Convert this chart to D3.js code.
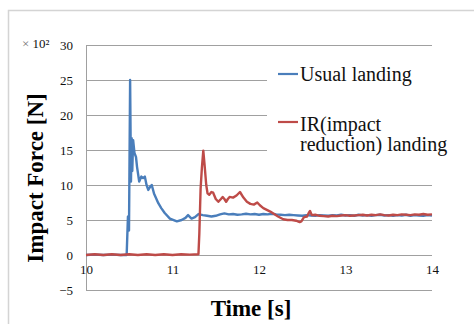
<!DOCTYPE html>
<html>
<head>
<meta charset="utf-8">
<script src="https://cdn.jsdelivr.net/npm/d3@7"></script>
<style>
  body { margin: 0; background: #fff; }
  svg { display: block; }
</style>
</head>
<body>
<div id="chart"></div>
<script>
// Data (force in units of x10^2 N)
let usualTime = [10.00, 10.10, 10.20, 10.30, 10.40, 10.47, 10.485, 10.497, 10.51, 10.52, 10.528, 10.535, 10.545, 10.56, 10.578, 10.59, 10.615, 10.64, 10.66, 10.68, 10.70, 10.72, 10.745, 10.76, 10.786, 10.836, 10.87, 10.91, 10.97, 11.05, 11.106, 11.15, 11.18, 11.22, 11.26, 11.30, 11.35, 11.40, 11.45, 11.50, 11.55, 11.60, 11.65, 11.70, 11.75, 11.80, 11.85, 11.90, 11.95, 12.00, 12.05, 12.10, 12.15, 12.20, 12.25, 12.30, 12.35, 12.40, 12.45, 12.50, 12.55, 12.60, 12.65, 12.70, 12.75, 12.80, 12.85, 12.90, 12.95, 13.00, 13.05, 13.10, 13.15, 13.20, 13.25, 13.30, 13.35, 13.40, 13.45, 13.50, 13.55, 13.60, 13.65, 13.70, 13.75, 13.80, 13.85, 13.90, 13.95, 14.00];
let usualForce = [0, 0.05, 0, 0.05, 0, 0, 5.5, 3.5, 25, 10.5, 16.7, 12, 16.4, 14.6, 14, 12.6, 10.5, 11.2, 11.0, 11.2, 10.0, 9.3, 9.8, 10.0, 8.8, 7.4, 6.7, 6.0, 5.2, 4.8, 5.0, 5.3, 5.7, 5.2, 5.4, 5.85, 5.7, 5.6, 5.5, 5.6, 5.8, 5.95, 5.8, 5.85, 5.75, 5.8, 5.9, 5.8, 5.85, 5.75, 5.85, 5.8, 5.9, 5.8, 5.75, 5.7, 5.75, 5.7, 5.65, 5.6, 5.7, 5.65, 5.6, 5.7, 5.65, 5.6, 5.7, 5.65, 5.75, 5.65, 5.7, 5.6, 5.75, 5.65, 5.7, 5.6, 5.7, 5.75, 5.65, 5.7, 5.6, 5.7, 5.65, 5.75, 5.6, 5.7, 5.65, 5.6, 5.7, 5.65];

let irTime = [10.00, 10.10, 10.20, 10.30, 10.40, 10.50, 10.60, 10.70, 10.80, 10.90, 11.00, 11.10, 11.20, 11.30, 11.31, 11.325, 11.34, 11.356, 11.37, 11.39, 11.405, 11.425, 11.45, 11.47, 11.50, 11.53, 11.56, 11.58, 11.60, 11.62, 11.64, 11.66, 11.70, 11.74, 11.78, 11.82, 11.86, 11.90, 11.94, 11.98, 12.01, 12.05, 12.13, 12.22, 12.28, 12.33, 12.38, 12.43, 12.47, 12.49, 12.52, 12.555, 12.575, 12.59, 12.61, 12.65, 12.70, 12.75, 12.80, 12.85, 12.90, 12.95, 13.00, 13.05, 13.10, 13.15, 13.20, 13.25, 13.30, 13.35, 13.40, 13.45, 13.50, 13.55, 13.60, 13.65, 13.70, 13.75, 13.80, 13.85, 13.90, 13.95, 14.00];
let irForce = [0, 0.1, 0, 0.1, 0, 0.1, 0, 0.1, 0, 0.1, 0, 0.1, 0.05, 0.1, 3, 9.5, 12.5, 14.9, 13, 10, 8.8, 8.6, 9.0, 8.9, 8.0, 7.6, 8.0, 8.3, 8.0, 7.6, 8.0, 8.3, 8.2, 8.5, 9.0, 8.2, 7.6, 7.3, 7.2, 7.5, 7.1, 6.7, 6.2, 5.5, 5.1, 5.0, 5.0, 4.9, 4.7, 4.8, 5.4, 5.5, 6.0, 6.3, 5.7, 5.75, 5.6, 5.55, 5.5, 5.6, 5.55, 5.65, 5.7, 5.6, 5.65, 5.7, 5.75, 5.65, 5.75, 5.7, 5.8, 5.7, 5.65, 5.75, 5.7, 5.8, 5.75, 5.7, 5.8, 5.75, 5.85, 5.75, 5.8];

let xTicks = [10, 11, 12, 13, 14];
let yTicks = [-5, 0, 5, 10, 15, 20, 25, 30];
let seriesNames = ["Usual landing", "IR(impact reduction) landing"];

let font = "Liberation Serif";
let W = 474, H = 324;
let margin = { top: 45, left: 86, right: 42, bottom: 34 };
let width = W - margin.left - margin.right,
  height = H - margin.top - margin.bottom;

let x = d3.scaleLinear().domain([10, 14]).range([0, width]);
let y = d3.scaleLinear().domain([-5, 30]).range([height, 0]);

let svg = d3.select("#chart").append("svg")
  .attr("width", W).attr("height", H);

// outer frame (chart area border)
svg.append("path")
  .attr("d", "M8.5," + H + "V10.5H" + W)
  .attr("fill", "none")
  .attr("stroke", "#d4d4d4")
  .attr("stroke-width", 1.5);

let g = svg.append("g")
  .attr("transform", "translate(" + margin.left + "," + margin.top + ")");

// horizontal gridlines + y labels
let yAxis = d3.axisLeft(y).tickValues(yTicks).tickSize(-width).tickPadding(13)
  .tickFormat(d3.format("d"));
g.append("g").attr("class", "y axis").call(yAxis)
  .attr("font-family", font)
  .call(s => s.select(".domain").remove())
  .call(s => s.selectAll(".tick line").attr("stroke", "#a0a0a0").attr("stroke-width", 1)
    .attr("shape-rendering", "crispEdges"))
  .call(s => s.selectAll(".tick text")
    .attr("font-size", 13).attr("fill", "#111").attr("dy", "0.34em"));

// left axis line
g.append("line")
  .attr("x1", 0).attr("x2", 0).attr("y1", y(30)).attr("y2", y(-5))
  .attr("stroke", "#a0a0a0").attr("shape-rendering", "crispEdges");

// x axis at 0
let xAxis = d3.axisBottom(x).tickValues(xTicks).tickSize(0).tickPadding(10)
  .tickFormat(d3.format("d"));
g.append("g").attr("class", "x axis")
  .attr("transform", "translate(0," + y(0) + ")")
  .call(xAxis)
  .attr("font-family", font)
  .call(s => s.select(".domain").remove())
  .call(s => s.selectAll(".tick text")
    .attr("font-size", 13).attr("fill", "#111"));

// legend background hides gridlines
g.append("rect")
  .attr("x", 181).attr("y", 10).attr("width", 200).attr("height", 110)
  .attr("fill", "#fff");

let line = d3.line()
  .x(d => x(d[0]))
  .y(d => y(d[1]));

let usualData = usualTime.map((t, i) => [t, usualForce[i]]);
let irData = irTime.map((t, i) => [t, irForce[i]]);

g.append("path").datum(usualData)
  .attr("fill", "none").attr("stroke", "#4a7ebb").attr("stroke-width", 2.4)
  .attr("stroke-linejoin", "round").attr("d", line);

g.append("path").datum(irData)
  .attr("fill", "none").attr("stroke", "#be4b48").attr("stroke-width", 2.4)
  .attr("stroke-linejoin", "round").attr("d", line);

// legend
svg.append("line").attr("x1", 278).attr("x2", 298).attr("y1", 74).attr("y2", 74)
  .attr("stroke", "#4a7ebb").attr("stroke-width", 2.2);
svg.append("text").attr("x", 300).attr("y", 81)
  .attr("font-family", font).attr("font-size", 20).attr("fill", "#111")
  .text(seriesNames[0]);
svg.append("line").attr("x1", 278).attr("x2", 298).attr("y1", 122).attr("y2", 122)
  .attr("stroke", "#be4b48").attr("stroke-width", 2.2);
let t2 = svg.append("text").attr("font-family", font).attr("font-size", 20).attr("fill", "#111");
t2.append("tspan").attr("x", 300).attr("y", 131).text("IR(impact");
t2.append("tspan").attr("x", 300).attr("y", 151).text("reduction) landing");

// multiplier label
let mult = svg.append("text").attr("x", 22).attr("y", 48)
  .attr("font-family", font).attr("font-size", 13).attr("fill", "#111");
mult.append("tspan").attr("fill", "#777").text("\u00d7 ");
mult.append("tspan").text("10\u00b2");

// axis titles
svg.append("text")
  .attr("transform", "translate(43,178) rotate(-90)")
  .attr("text-anchor", "middle")
  .attr("font-family", font).attr("font-weight", "bold").attr("font-size", 23)
  .text("Impact Force [N]");

svg.append("text")
  .attr("x", 251).attr("y", 316)
  .attr("text-anchor", "middle")
  .attr("font-family", font).attr("font-weight", "bold").attr("font-size", 23)
  .text("Time [s]");
</script>
</body>
</html>
